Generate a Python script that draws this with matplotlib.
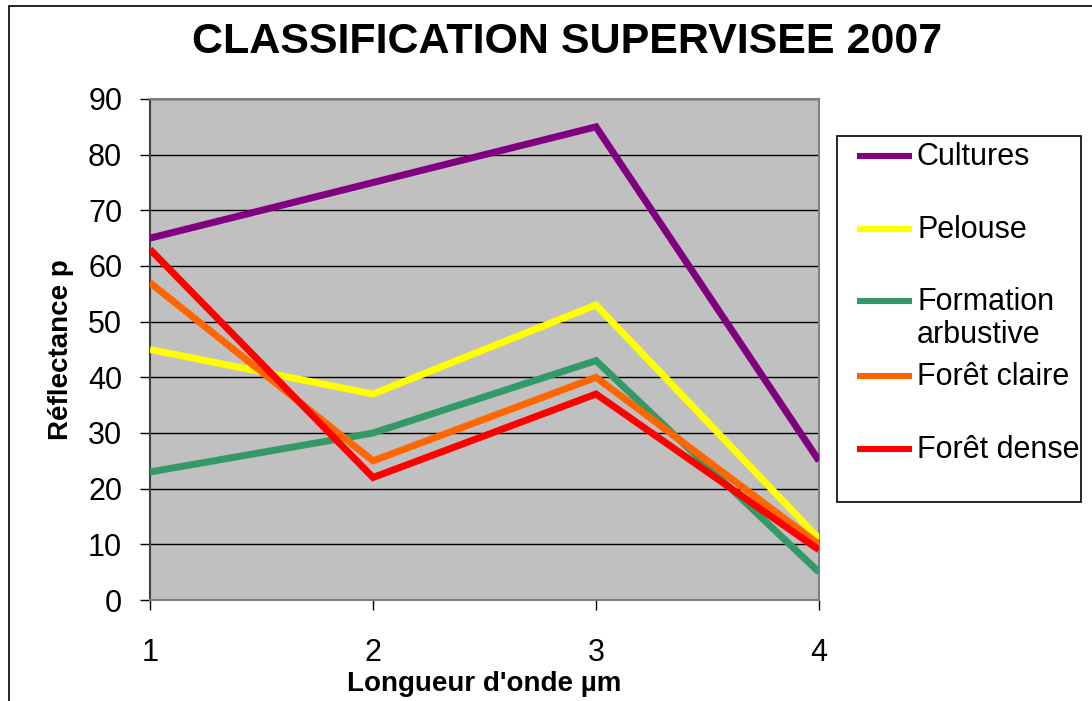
import matplotlib
matplotlib.use("Agg")
import matplotlib.pyplot as plt
from matplotlib.lines import Line2D
from matplotlib.patches import Rectangle

plt.rcParams['font.family'] = ['Liberation Sans', 'DejaVu Sans']

# Wavelength bands and reflectance per land-cover class
wavelengths = [1, 2, 3, 4]
cultures = [65, 75, 85, 25]
pelouse = [45, 37, 53, 11]
formation_arbustive = [23, 30, 43, 5]
foret_claire = [57, 25, 40, 10]
foret_dense = [63, 22, 37, 9]

series_labels = ["Cultures", "Pelouse", "Formation\narbustive", "Forêt claire", "Forêt dense"]
series_values = [cultures, pelouse, formation_arbustive, foret_claire, foret_dense]
series_colors = ["#800080", "#FFFF00", "#339966", "#FF6600", "#FF0000"]

y_ticks = list(range(0, 91, 10))

W, H = 1092, 701
fig = plt.figure(figsize=(W / 100, H / 100), dpi=100)
fig.patch.set_facecolor("white")

# outer chart frame
fig.patches.append(Rectangle((9 / W, -0.05), 1.2, (H - 6) / H + 0.05,
                             transform=fig.transFigure, fill=False,
                             edgecolor="black", linewidth=1.2))

ax = fig.add_axes([150 / W, 1 - 600 / H, (819 - 150) / W, (600 - 99) / H])
ax.set_facecolor("#C0C0C0")

for vals, col in zip(series_values, series_colors):
    ax.plot(wavelengths, vals, color=col, linewidth=5.0,
            solid_joinstyle="miter", solid_capstyle="butt", zorder=3)

ax.set_xlim(1, 4)
ax.set_ylim(0, 90)
ax.set_xticks(wavelengths)
ax.set_yticks(y_ticks)
ax.yaxis.grid(True, color="black", linewidth=1.0, zorder=1)
ax.set_axisbelow(True)

ax.tick_params(axis="y", direction="out", length=7, width=1, pad=13,
               labelsize=22, color="black")
ax.tick_params(axis="x", direction="out", length=7.5, width=1, pad=20,
               labelsize=22, color="black")

for side in ("top", "right", "bottom"):
    ax.spines[side].set_color("#808080")
    ax.spines[side].set_linewidth(1.5)
ax.spines["left"].set_color("#404040")
ax.spines["left"].set_linewidth(1.5)

ax.set_xlabel("Longueur d'onde µm", fontsize=20, fontweight="bold", labelpad=2)
ax.set_ylabel("Réflectance p", fontsize=20, fontweight="bold", labelpad=10)

fig.text(567 / W, 1 - 42 / H, "CLASSIFICATION SUPERVISEE 2007",
         ha="center", va="center", fontsize=31, fontweight="bold")

# legend box
fig.patches.append(Rectangle((837 / W, 1 - 502 / H), (1081 - 837) / W, (502 - 136) / H,
                             transform=fig.transFigure, facecolor="white",
                             edgecolor="black", linewidth=1.2))
legend_rows = [156, 229, 301, 376, 449]
for lab, col, yy in zip(series_labels, series_colors, legend_rows):
    fig.lines.append(Line2D([857 / W, 912 / W], [1 - yy / H, 1 - yy / H],
                            transform=fig.transFigure, color=col, linewidth=4.4,
                            solid_capstyle="butt"))
    fig.text(917 / W, 1 - (yy - 14) / H, lab, ha="left", va="top",
             fontsize=22, linespacing=1.12)

fig.savefig("out.png", dpi=100)
